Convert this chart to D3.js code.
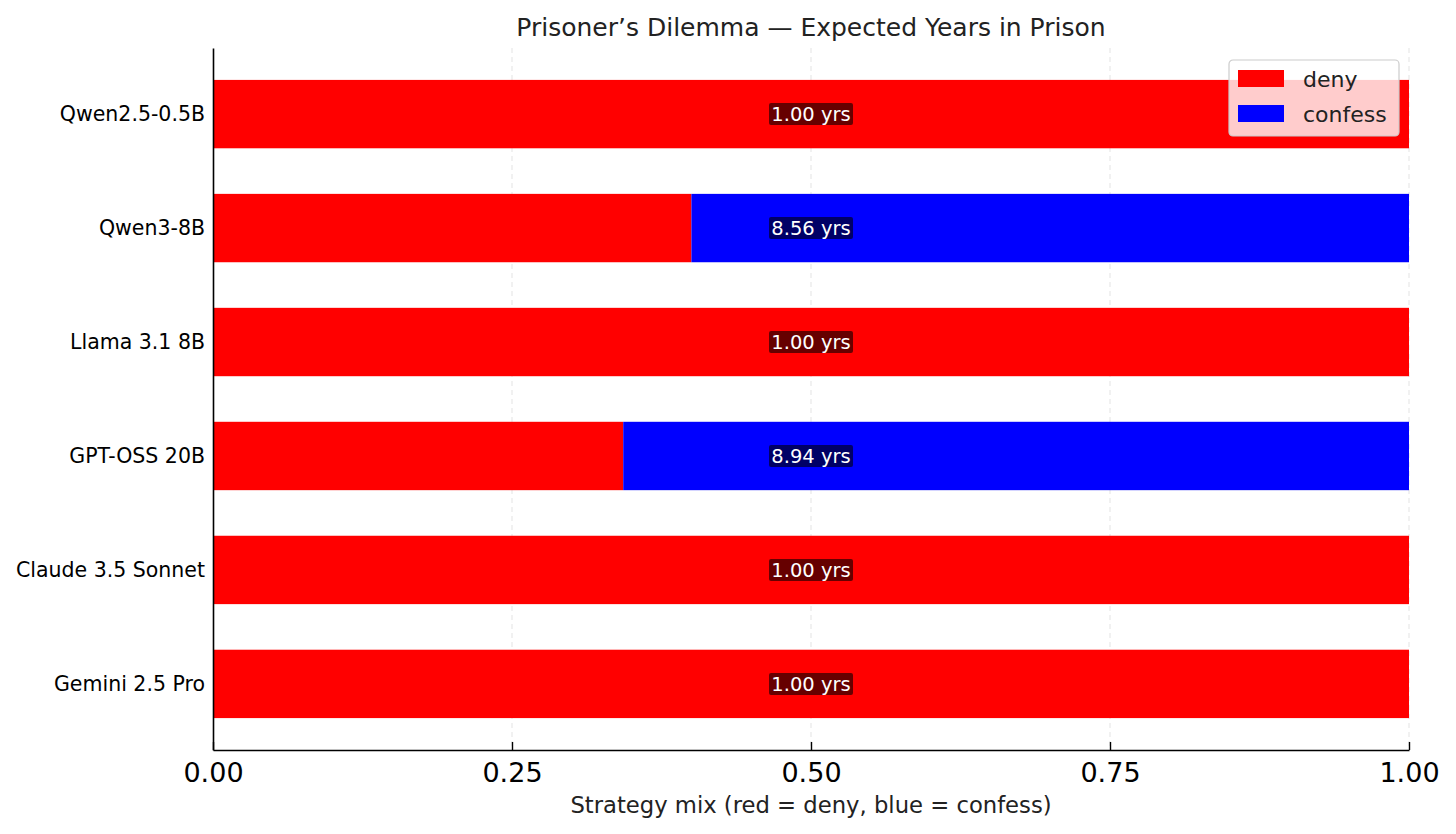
<!DOCTYPE html>
<html>
<head>
<meta charset="utf-8">
<script src="https://cdn.jsdelivr.net/npm/d3@7"></script>
<style>
    body { margin: 0; background: #fff; }
    svg { display: block; font-family: "DejaVu Sans", sans-serif; }
    .grid line { stroke: #e3e3e3; stroke-dasharray: 5,4; }
</style>
</head>
<body>
<div id="chart"></div>
<script>
const models = ["Qwen2.5-0.5B", "Qwen3-8B", "Llama 3.1 8B", "GPT-OSS 20B", "Claude 3.5 Sonnet", "Gemini 2.5 Pro"];
const denyShare = [1.0, 0.40, 1.0, 0.343, 1.0, 1.0];
const confessShare = [0.0, 0.60, 0.0, 0.657, 0.0, 0.0];
const expectedYears = [1.00, 8.56, 1.00, 8.94, 1.00, 1.00];
const xTicks = [0, 0.25, 0.5, 0.75, 1.0];
const seriesNames = ["deny", "confess"];
const seriesColors = ["#ff0000", "#0000ff"];

document.addEventListener('DOMContentLoaded', function() {
    renderChart();
});

function renderChart() {
    const width = 1456, height = 834;
    const left = 213, right = 1409, top = 48, bottom = 750;

    const svg = d3.select("#chart").append("svg")
        .attr("width", width)
        .attr("height", height);

    const x = d3.scaleLinear().domain([0, 1]).range([left, right]);
    // matplotlib style: bars at 0..5 with height 0.6 and 5% margins
    const y = d3.scaleLinear().domain([-0.58, 5.58]).range([top, bottom]);
    const barH = y(0.6) - y(0);

    // grid behind bars
    svg.append("g")
        .attr("class", "grid")
        .selectAll("line")
        .data(xTicks.slice(1))
        .enter().append("line")
        .attr("x1", d => x(d)).attr("x2", d => x(d))
        .attr("y1", top).attr("y2", bottom);

    const rows = models.map((m, i) => ({ model: m, i: i, deny: denyShare[i], confess: confessShare[i], years: expectedYears[i] }));

    // deny segment
    svg.append("g").selectAll("rect")
        .data(rows)
        .enter().append("rect")
        .attr("x", x(0))
        .attr("y", d => y(d.i) - barH / 2)
        .attr("width", d => x(d.deny) - x(0))
        .attr("height", barH)
        .attr("fill", seriesColors[0]);

    // confess segment stacked after deny
    svg.append("g").selectAll("rect")
        .data(rows.filter(d => d.confess > 0))
        .enter().append("rect")
        .attr("x", d => x(d.deny))
        .attr("y", d => y(d.i) - barH / 2)
        .attr("width", d => x(d.deny + d.confess) - x(d.deny))
        .attr("height", barH)
        .attr("fill", seriesColors[1]);

    // value labels with dark box
    const lab = svg.append("g").selectAll("g")
        .data(rows)
        .enter().append("g")
        .attr("transform", d => "translate(" + x(0.5) + "," + y(d.i) + ")");

    lab.append("rect")
        .attr("x", -42).attr("y", -11)
        .attr("width", 84).attr("height", 22)
        .attr("rx", 2)
        .attr("fill", "#000")
        .attr("fill-opacity", 0.6);

    lab.append("text")
        .attr("text-anchor", "middle")
        .attr("dy", "0.36em")
        .attr("fill", "#fff")
        .style("font-size", "19.5px")
        .text(d => d.years.toFixed(2) + " yrs");

    // axes
    const xAxis = d3.axisBottom(x)
        .tickValues(xTicks)
        .tickFormat(d3.format(".2f"))
        .tickSizeInner(-8)
        .tickSizeOuter(0)
        .tickPadding(13);

    const gx = svg.append("g")
        .attr("transform", "translate(0," + bottom + ")")
        .call(xAxis);
    gx.select(".domain").attr("stroke", "#000").attr("stroke-width", 1.6);
    gx.selectAll(".tick line").attr("stroke", "#000").attr("stroke-width", 1.4);
    gx.selectAll("text").style("font-size", "27px").attr("fill", "#000").attr("font-family", "DejaVu Sans");

    const yAxis = d3.axisLeft(y)
        .tickValues(d3.range(models.length))
        .tickFormat(i => models[i])
        .tickSize(0)
        .tickPadding(8);

    const gy = svg.append("g")
        .attr("transform", "translate(" + left + ",0)")
        .call(yAxis);
    gy.select(".domain").attr("stroke", "#000").attr("stroke-width", 1.6);
    gy.selectAll("text").style("font-size", "20.5px").attr("fill", "#000").attr("font-family", "DejaVu Sans");

    // title and axis label
    svg.append("text")
        .attr("x", (left + right) / 2)
        .attr("y", 36)
        .attr("text-anchor", "middle")
        .style("font-size", "25px")
        .attr("fill", "#222")
        .text("Prisoner\u2019s Dilemma \u2014 Expected Years in Prison");

    svg.append("text")
        .attr("x", (left + right) / 2)
        .attr("y", 813)
        .attr("text-anchor", "middle")
        .style("font-size", "22.7px")
        .attr("fill", "#222")
        .text("Strategy mix (red = deny, blue = confess)");

    // legend
    const legend = svg.append("g").attr("transform", "translate(1229,60)");
    legend.append("rect")
        .attr("width", 170).attr("height", 76)
        .attr("rx", 4)
        .attr("fill", "#fff").attr("fill-opacity", 0.8)
        .attr("stroke", "#ccc").attr("stroke-width", 1.2);

    const items = legend.selectAll(".item")
        .data(seriesNames)
        .enter().append("g")
        .attr("class", "item")
        .attr("transform", (d, i) => "translate(9," + (10 + i * 35) + ")");

    items.append("rect")
        .attr("width", 46).attr("height", 17)
        .attr("fill", (d, i) => seriesColors[i]);

    items.append("text")
        .attr("x", 65).attr("y", 9)
        .attr("dy", "0.36em")
        .style("font-size", "22px")
        .attr("fill", "#222")
        .text(d => d);
}
</script>
</body>
</html>
